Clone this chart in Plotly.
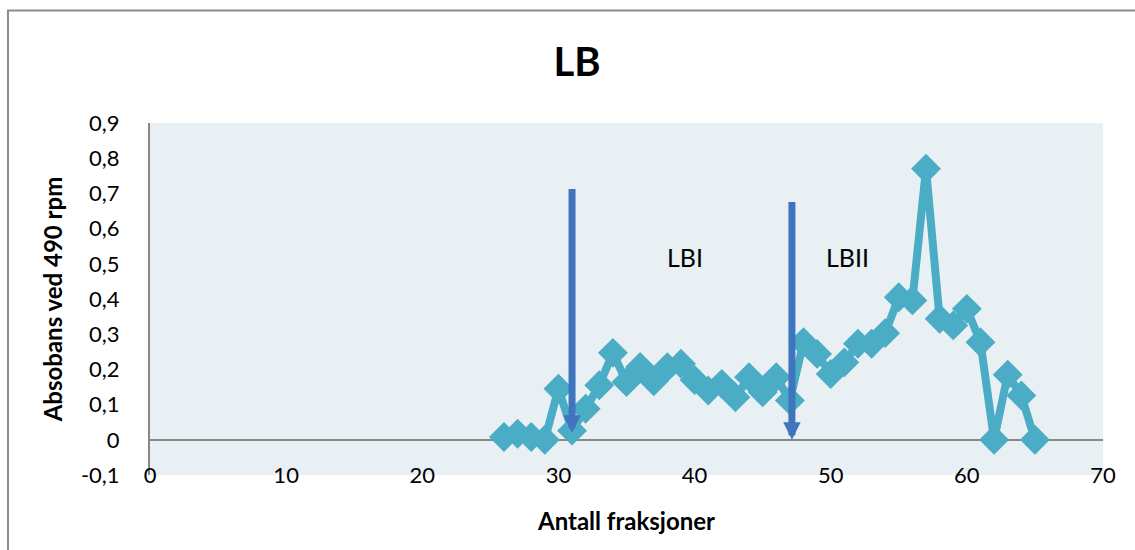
import plotly.graph_objects as go

fractions = list(range(26, 66))
absorbance = [0.008, 0.017, 0.008, 0.0, 0.145, 0.026, 0.088, 0.155, 0.247, 0.164,
              0.207, 0.166, 0.206, 0.216, 0.17, 0.14, 0.159, 0.121, 0.178, 0.135,
              0.178, 0.112, 0.277, 0.244, 0.187, 0.22, 0.273, 0.273, 0.303, 0.405,
              0.396, 0.77, 0.344, 0.325, 0.372, 0.277, 0.0, 0.185, 0.126, 0.0]

x_ticks = [0, 10, 20, 30, 40, 50, 60, 70]
y_ticks = [-0.1, 0, 0.1, 0.2, 0.3, 0.4, 0.5, 0.6, 0.7, 0.8, 0.9]
y_tick_text = ["-0,1", "0", "0,1", "0,2", "0,3", "0,4", "0,5", "0,6", "0,7", "0,8", "0,9"]

# markers (arrows) : x, top, bottom
arrow_x = [31.0, 47.15]
arrow_top = [0.717, 0.68]
arrow_bottom = [0.02, 0.0]
region_labels = ["LBI", "LBII"]
region_label_x = [39.3, 51.2]
region_label_y = [0.518, 0.518]

FONT = "Lato"
LINE = "#4BACC6"
ARROW = "#3F74BE"

fig = go.Figure()
fig.add_trace(go.Scatter(
    x=fractions, y=absorbance, mode="lines+markers",
    line=dict(color=LINE, width=8),
    marker=dict(symbol="diamond", size=23, color=LINE),
    showlegend=False, hoverinfo="x+y"))

for xa, yt, yb in zip(arrow_x, arrow_top, arrow_bottom):
    fig.add_annotation(x=xa, y=yb, ax=xa, ay=yt, xref="x", yref="y",
                       axref="x", ayref="y", text="", showarrow=True,
                       arrowhead=2, arrowsize=0.5, arrowwidth=7,
                       arrowcolor=ARROW, standoff=0, startstandoff=0)

for t, lx, ly in zip(region_labels, region_label_x, region_label_y):
    fig.add_annotation(x=lx, y=ly, xref="x", yref="y", text=t, showarrow=False,
                       font=dict(family=FONT, size=25, color="#000000"))

# outer chart-area border (top and left visible)
fig.add_shape(type="rect", xref="paper", yref="paper",
              x0=-0.149, x1=1.06, y0=-0.3, y1=1.3196,
              line=dict(color="#8C8C8C", width=2), layer="below")

fig.update_layout(
    width=1135, height=550,
    margin=dict(l=150, r=32, t=123, b=75),
    paper_bgcolor="#FFFFFF", plot_bgcolor="#E9F0F4",
    title=dict(text="<b>LB</b>", x=0.448, xanchor="center", y=0.887, yanchor="middle",
               xref="paper", font=dict(family=FONT, size=40, color="#000000")),
    font=dict(family=FONT, color="#000000"),
    xaxis=dict(range=[0, 70], tickvals=x_ticks, ticktext=[str(v) for v in x_ticks],
               showgrid=False, zeroline=False, showline=False,
               ticks="", tickfont=dict(family=FONT, size=22, color="#000000"),
               ticklabelstandoff=-15,
               title=dict(text="<b>Antall fraksjoner</b>", standoff=26,
                          font=dict(family=FONT, size=24, color="#000000"))),
    yaxis=dict(range=[-0.1, 0.9], tickvals=y_ticks, ticktext=y_tick_text,
               showgrid=False, zeroline=True, zerolinecolor="#878787", zerolinewidth=2,
               showline=True, linecolor="#878787", linewidth=2,
               ticks="", tickfont=dict(family=FONT, size=22, color="#000000"),
               ticklabelstandoff=24,
               title=dict(text="<b>Absobans ved 490 rpm</b>", standoff=12,
                          font=dict(family=FONT, size=24, color="#000000"))),
)

fig.write_html("out.html")
